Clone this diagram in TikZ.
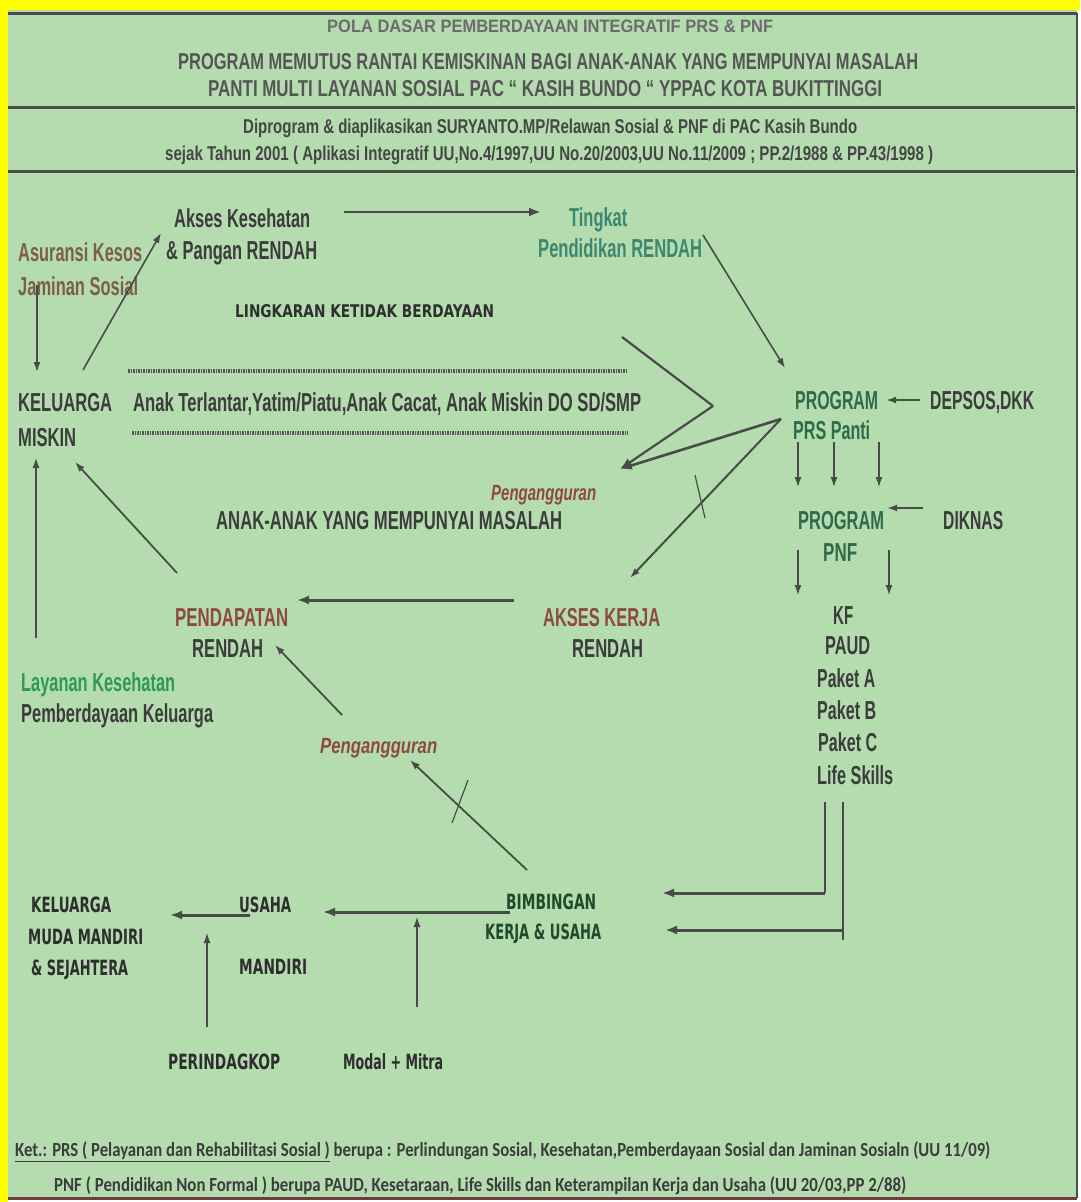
\documentclass[tikz,border=0pt]{standalone}
\usepackage{fontspec}
\usepackage{graphicx}
\usetikzlibrary{arrows.meta}
\setmainfont{Liberation Sans}
\newfontfamily\heavyfont{DejaVu Sans}
\newfontfamily\calfont{Carlito}
\definecolor{bgc}{HTML}{B4DCAF}
\definecolor{ink}{HTML}{3C3C3C}
\definecolor{titleA}{HTML}{6C6C6C}
\definecolor{titleB}{HTML}{555555}
\definecolor{titleC}{HTML}{464646}
\definecolor{grn}{HTML}{2F6B48}
\definecolor{tealc}{HTML}{3D8770}
\definecolor{brn}{HTML}{8E4A42}
\definecolor{olive}{HTML}{7D5E4E}
\definecolor{lgreen}{HTML}{2E9A52}
\definecolor{dgreen}{HTML}{1F4A2C}
\definecolor{arr}{HTML}{4A4A4A}
\definecolor{yel}{HTML}{FFFF00}
\definecolor{frame}{HTML}{4C4C4C}
\definecolor{hink}{HTML}{2E2E2E}
\newlength\fitlen
\newcommand\fitto[2]{%
  \settowidth{\fitlen}{#2}%
  \pgfmathsetmacro\fitr{#1/\fitlen}%
  \scalebox{\fitr}[1]{#2}}
\tikzset{
  tx/.style={inner sep=0pt, anchor=west, text depth=0pt},
  ttlA/.style={tx, font=\fontsize{18}{21}\selectfont\bfseries, text=titleA, text height=13pt},
  ttlB/.style={tx, font=\fontsize{23}{27}\selectfont\bfseries, text=titleB, text height=16.5pt},
  ttlC/.style={tx, font=\fontsize{20}{24}\selectfont\bfseries, text=titleC, text height=14.5pt},
  lab/.style={tx, font=\fontsize{26}{30}\selectfont\bfseries, text=ink, text height=18.5pt},
  ital/.style={tx, font=\fontsize{22}{26}\selectfont\bfseries\itshape, text=brn, text height=16pt},
  hvy/.style={tx, font=\heavyfont\fontsize{21}{24}\selectfont\bfseries, text=hink, text height=15pt},
  hvyS/.style={tx, font=\heavyfont\fontsize{17.5}{21}\selectfont\bfseries, text=hink, text height=12.5pt},
  foot/.style={tx, font=\calfont\fontsize{20}{24}\selectfont\bfseries, text=ink, text height=12.5pt},
  ln/.style={draw=arr, line width=1.6pt},
  thinln/.style={draw=arr, line width=1.2pt},
  ar/.style={ln, -{Latex[length=10pt,width=7pt]}},
  arthin/.style={thinln, -{Latex[length=10pt,width=7pt]}},
  arT/.style={draw=arr, line width=3pt, -{Latex[length=12pt,width=9pt]}},
  arM/.style={draw=arr, line width=2.4pt, -{Latex[length=12pt,width=9pt]}},
  dotln/.style={draw=titleB, line width=4pt, dash pattern=on 1.5pt off 1pt},
  sep/.style={draw=frame, line width=3pt},
}
\begin{document}
\begin{tikzpicture}[x=1pt,y=-1pt]
\useasboundingbox (0,0) rectangle (1080,1202);
% background and frame
\fill[white] (0,0) rectangle (1080,1202);
\fill[yel] (0,0) rectangle (1080,10);
\fill[yel] (0,0) rectangle (8,1202);
\fill[bgc] (8,10) rectangle (1077,1198);
\draw[sep] (8,13) -- (1077,13);
\draw[draw=frame, line width=2pt] (1077,13) -- (1077,1198);
\draw[draw=frame!80!red, line width=3pt] (8,1198) -- (1077,1198);
\draw[sep] (8,107) -- (1075,107);
\draw[sep] (8,171) -- (1075,171);

% title
\node[ttlA] (t1) at (327,26) {\fitto{446}{POLA DASAR PEMBERDAYAAN INTEGRATIF PRS \& PNF}};
\node[ttlB] (t2) at (178,61) {\fitto{740}{PROGRAM MEMUTUS RANTAI KEMISKINAN BAGI ANAK-ANAK YANG MEMPUNYAI MASALAH}};
\node[ttlB] (t3) at (208,88) {\fitto{674}{PANTI MULTI LAYANAN SOSIAL PAC “ KASIH BUNDO “ YPPAC KOTA BUKITTINGGI}};
\node[ttlC] (t4) at (243,126) {\fitto{614}{Diprogram \& diaplikasikan SURYANTO.MP/Relawan Sosial \& PNF di PAC Kasih Bundo}};
\node[ttlC] (t5) at (165,153) {\fitto{768}{sejak Tahun 2001 ( Aplikasi Integratif UU,No.4/1997,UU No.20/2003,UU No.11/2009 ; PP.2/1988 \& PP.43/1998 )}};

% upper cycle labels
\node[lab] (akses1) at (174,218) {\fitto{136}{Akses Kesehatan}};
\node[lab] (akses2) at (166,250) {\fitto{151}{\& Pangan RENDAH}};
\node[lab, text=tealc] (ting1) at (569,217) {\fitto{58}{Tingkat}};
\node[lab, text=tealc] (ting2) at (538,248) {\fitto{164}{Pendidikan RENDAH}};
\node[lab, text=olive] (asu1) at (18,252) {\fitto{124}{Asuransi Kesos}};
\node[lab, text=olive] (asu2) at (18,286) {\fitto{120}{Jaminan Sosial}};
\node[hvyS] (ling) at (235,311) {\fitto{259}{LINGKARAN KETIDAK BERDAYAAN}};
\node[lab] (kel1) at (18,402) {\fitto{94}{KELUARGA}};
\node[lab] (kel2) at (18,437) {\fitto{58}{MISKIN}};
\node[lab] (anak) at (133,402) {\fitto{508}{Anak Terlantar,Yatim/Piatu,Anak Cacat, Anak Miskin DO SD/SMP}};
\node[lab, text=grn] (prog1) at (795,400) {\fitto{83}{PROGRAM}};
\node[lab, text=grn] (prog2) at (793,430) {\fitto{77}{PRS Panti}};
\node[lab] (depsos) at (930,400) {\fitto{104}{DEPSOS,DKK}};
\node[ital] (peng1) at (491,492) {\fitto{105}{Pengangguran}};
\node[lab] (masalah) at (216,520) {\fitto{346}{ANAK-ANAK YANG MEMPUNYAI MASALAH}};
\node[lab, text=grn] (pnf1) at (798,520) {\fitto{86}{PROGRAM}};
\node[lab, text=grn] (pnf2) at (823,552) {\fitto{34}{PNF}};
\node[lab] (diknas) at (943,520) {\fitto{60}{DIKNAS}};
\node[lab, text=brn] (pend1) at (175,617) {\fitto{113}{PENDAPATAN}};
\node[lab] (pend2) at (192,648) {\fitto{71}{RENDAH}};
\node[lab, text=brn] (ak1) at (543,617) {\fitto{117}{AKSES KERJA}};
\node[lab] (ak2) at (572,648) {\fitto{71}{RENDAH}};
\node[lab] (kf) at (833,615) {\fitto{20}{KF}};
\node[lab] (paud) at (825,645) {\fitto{45}{PAUD}};
\node[lab] (pka) at (817,678) {\fitto{58}{Paket A}};
\node[lab] (pkb) at (817,710) {\fitto{59}{Paket B}};
\node[lab] (pkc) at (818,742) {\fitto{59}{Paket C}};
\node[lab] (life) at (817,775) {\fitto{76}{Life Skills}};
\node[lab, text=lgreen] (lay1) at (21,682) {\fitto{154}{Layanan Kesehatan}};
\node[lab] (lay2) at (21,713) {\fitto{192}{Pemberdayaan Keluarga}};
\node[ital] (peng2) at (320,745) {\fitto{117}{Pengangguran}};

% lower block
\node[hvy] (kb1) at (31,905) {\fitto{80}{KELUARGA}};
\node[hvy] (kb2) at (28,937) {\fitto{115}{MUDA MANDIRI}};
\node[hvy] (kb3) at (31,968) {\fitto{97}{\& SEJAHTERA}};
\node[hvy] (usaha) at (239,905) {\fitto{52}{USAHA}};
\node[hvy] (mandiri) at (239,967) {\fitto{68}{MANDIRI}};
\node[hvy, text=dgreen] (bimb1) at (506,902) {\fitto{90}{BIMBINGAN}};
\node[hvy, text=dgreen] (bimb2) at (485,932) {\fitto{116}{KERJA \& USAHA}};
\node[hvy] (perin) at (168,1062) {\fitto{112}{PERINDAGKOP}};
\node[hvy] (modal) at (343,1062) {\fitto{100}{Modal + Mitra}};

% footer
\node[foot] (f1) at (15,1150) {\fitto{975}{\underline{Ket.: PRS ( Pelayanan dan Rehabilitasi Sosial )} berupa : Perlindungan Sosial, Kesehatan,Pemberdayaan Sosial dan Jaminan Sosialn (UU 11/09)}};
\node[foot] (f2) at (54,1185) {\fitto{852}{PNF ( Pendidikan Non Formal ) berupa PAUD, Kesetaraan, Life Skills dan Keterampilan Kerja dan Usaha (UU 20/03,PP 2/88)}};

% connector coordinates
\coordinate (aksR) at (344,212);
\coordinate (tingL) at (541,212);
\coordinate (tingB) at (703,235);
\coordinate (progT) at (785,368);
\coordinate (kelT) at (83,370);
\coordinate (pangB) at (161,233);
\coordinate (jamB) at (37,285);
\coordinate (kelTL) at (37,372);
\coordinate (chA) at (622,337);
\coordinate (chB) at (713,406);
\coordinate (chTip) at (620,469);
\coordinate (prsL) at (781,419);
\coordinate (akT) at (630,578);
\coordinate (tk1a) at (695,475);
\coordinate (tk1b) at (705,518);
\coordinate (depL) at (920,400);
\coordinate (progR) at (886,400);
\coordinate (dkL) at (923,508);
\coordinate (pnfR) at (887,508);
\coordinate (lsA) at (825,802);
\coordinate (lsAc) at (825,893);
\coordinate (bimR1) at (662,893);
\coordinate (lsB) at (843,802);
\coordinate (lsBe) at (843,940);
\coordinate (lsBc) at (843,930);
\coordinate (bimR2) at (665,930);
\coordinate (akL) at (514,600);
\coordinate (pendR) at (297,600);
\coordinate (pendL) at (177,573);
\coordinate (miskB) at (75,462);
\coordinate (layT) at (36,638);
\coordinate (miskBL) at (36,458);
\coordinate (peng2T) at (342,715);
\coordinate (pendB) at (275,645);
\coordinate (bimT) at (527,870);
\coordinate (peng2B) at (410,760);
\coordinate (tk2a) at (468,780);
\coordinate (tk2b) at (452,823);
\coordinate (bimL) at (510,912);
\coordinate (usR) at (323,912);
\coordinate (usL) at (250,915);
\coordinate (kbR) at (170,915);
\coordinate (perT) at (207,1027);
\coordinate (perTip) at (207,933);
\coordinate (modT) at (417,1007);
\coordinate (modTip) at (417,917);

% connectors
\draw[arM] (aksR) -- (tingL);
\draw[ar] (tingB) -- (progT);
\draw[ar] (kelT) -- (pangB);
\draw[ar] (jamB) -- (kelTL);
\draw[dotln] (128,371) -- (628,371);
\draw[dotln] (132,433) -- (628,433);
\draw[draw=arr, line width=2.2pt] (chA) -- (chB);
\draw[arM, line width=2.2pt] (chB) -- (chTip);
\draw[arM, line width=2.6pt] (prsL) -- (chTip);
\draw[ar, line width=2pt] (prsL) -- (akT);
\draw[thinln] (tk1a) -- (tk1b);
\draw[ar, line width=2pt] (depL) -- (progR);
\foreach \xx/\nm in {798/d1,834/d2,879/d3}{
  \coordinate (\nm a) at (\xx,442);
  \coordinate (\nm b) at (\xx,487);
  \draw[arthin] (\nm a) -- (\nm b);
}
\draw[ar, line width=2pt] (dkL) -- (pnfR);
\foreach \xx/\nm in {798/e1,889/e2}{
  \coordinate (\nm a) at (\xx,550);
  \coordinate (\nm b) at (\xx,595);
  \draw[arthin] (\nm a) -- (\nm b);
}
\draw[thinln] (lsA) -- (lsAc);
\draw[arT] (lsAc) -- (bimR1);
\draw[thinln] (lsB) -- (lsBe);
\draw[arT] (lsBc) -- (bimR2);
\draw[arT] (akL) -- (pendR);
\draw[ar, line width=1.8pt] (pendL) -- (miskB);
\draw[arthin] (layT) -- (miskBL);
\draw[ar, line width=1.8pt] (peng2T) -- (pendB);
\draw[ar, line width=1.8pt] (bimT) -- (peng2B);
\draw[thinln] (tk2a) -- (tk2b);
\draw[arT] (bimL) -- (usR);
\draw[arT] (usL) -- (kbR);
\draw[arthin] (perT) -- (perTip);
\draw[arthin] (modT) -- (modTip);
\end{tikzpicture}
\end{document}
